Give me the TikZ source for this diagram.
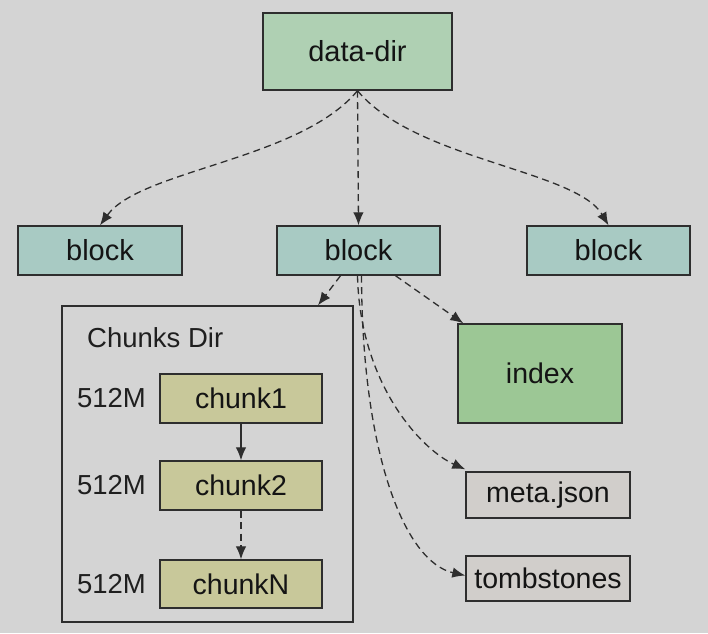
\documentclass[tikz,border=0pt]{standalone}
\usepackage{fontspec}
\setmainfont{Liberation Sans}
\usetikzlibrary{arrows.meta,calc}
\definecolor{bgc}{HTML}{D4D4D4}
\definecolor{ddc}{HTML}{AFD0B3}
\definecolor{blc}{HTML}{A8CAC3}
\definecolor{idxc}{HTML}{9CC795}
\definecolor{chc}{HTML}{C8C89A}
\definecolor{fic}{HTML}{D1CECB}
\definecolor{edc}{HTML}{2E2E2E}
\tikzset{
  box/.style={draw=edc, line width=1.4pt, inner sep=0pt, anchor=center, text=black!92,
    font=\fontsize{28.5}{32}\selectfont},
  ddbox/.style={box, fill=ddc, minimum width=189pt, minimum height=77pt, font=\fontsize{29}{32}\selectfont},
  blbox/.style={box, fill=blc, minimum width=163pt, minimum height=49pt, font=\fontsize{29}{32}\selectfont},
  idxbox/.style={box, fill=idxc, minimum width=164pt, minimum height=99pt},
  chbox/.style={box, fill=chc, minimum width=162pt, minimum height=49pt},
  fibox/.style={box, fill=fic, minimum width=164pt, minimum height=46pt},
  frame/.style={draw=edc, line width=1.4pt, inner sep=0pt, minimum width=291pt, minimum height=316pt},
  lbl/.style={inner sep=0pt, text=black!88, font=\fontsize{27.5}{30}\selectfont},
  conn/.style={draw=edc, line width=1.3pt, -{Latex[length=13pt,width=10.5pt]}},
  dconn/.style={conn, dash pattern=on 7pt off 4.5pt},
}
\begin{document}
\begin{tikzpicture}[x=1pt,y=-1pt]
\useasboundingbox[fill=bgc] (0,0) rectangle (708,633);
\node[ddbox] (dd) at (357.5,51.5) {data-dir};
\node[blbox, minimum width=164pt] (bL) at (100,250.5) {block};
\node[blbox] (bM) at (358.5,250.5) {block};
\node[blbox] (bR) at (608.5,250.5) {block};
\node[frame] (cd) at (207.5,464) {};
\node[lbl, anchor=west] (cdl) at (87,338) {Chunks Dir};
\node[chbox] (c1) at (241,398.5) {chunk1};
\node[chbox] (c2) at (241,485.5) {chunk2};
\node[chbox, minimum height=48pt] (cN) at (241,584) {chunkN};
\node[lbl, anchor=east] (m1) at (146,398.5) {512M};
\node[lbl, anchor=east] (m2) at (146,485.5) {512M};
\node[lbl, anchor=east] (m3) at (146,584) {512M};
\node[idxbox] (idx) at (540,373.5) {index};
\node[fibox] (meta) at (548,495) {meta.json};
\node[fibox, minimum height=45pt] (tomb) at (548,578.5) {tombstones};

\draw[dconn] (dd.south) .. controls (300,160) and (140,170) .. (bL.north);
\draw[dconn] (dd.south) -- (bM.north);
\draw[dconn] (dd.south) .. controls (415,160) and (576,170) .. (bR.north);

\draw[dconn] ([xshift=-18pt]bM.south) -- ([xshift=110.5pt]cd.north);
\draw[dconn] ([xshift=37pt]bM.south) -- ([xshift=6pt]idx.north west);
\draw[dconn] ([xshift=-1pt]bM.south) .. controls (360,385) and (422,450) .. ([yshift=2pt]meta.west |- meta.north);
\draw[dconn] ([xshift=3pt]bM.south) .. controls (362,455) and (405,562) .. ([yshift=3pt]tomb.west);

\draw[conn] (c1.south) -- (c2.north);
\draw[dconn] (c2.south) -- (cN.north);
\end{tikzpicture}
\end{document}
